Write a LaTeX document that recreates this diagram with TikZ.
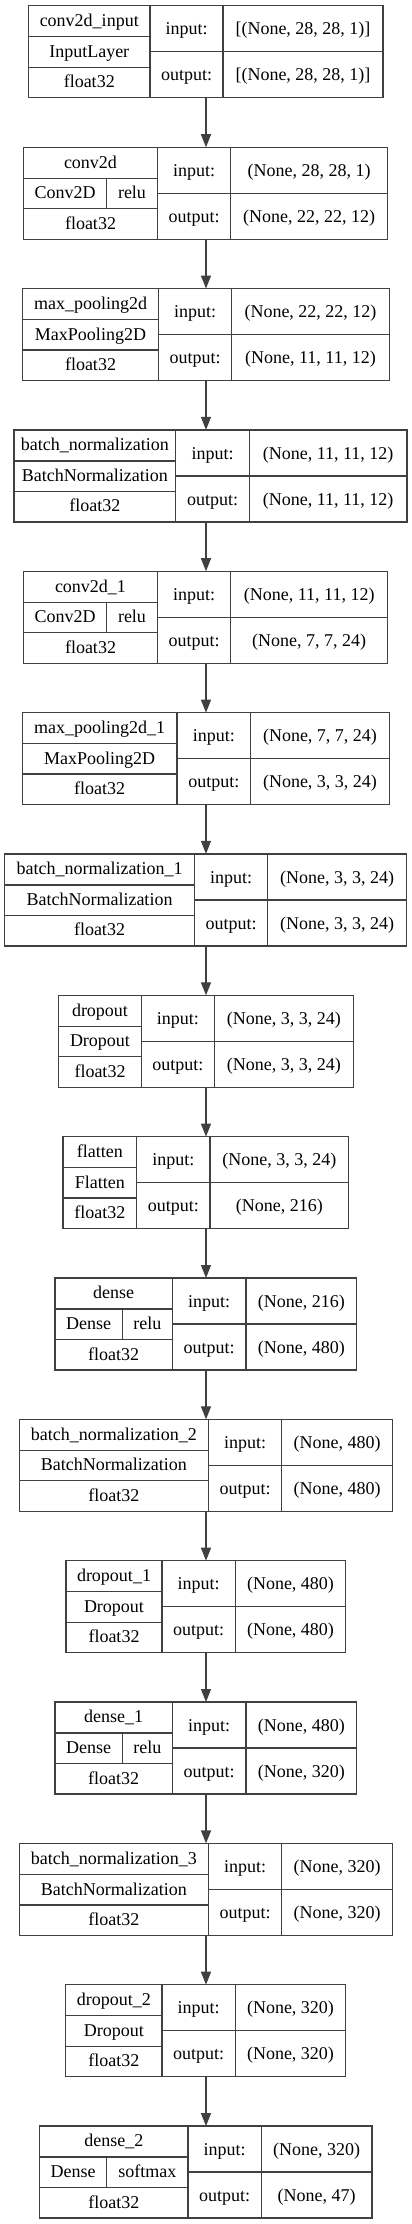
\documentclass[tikz,border=0pt]{standalone}
\usepackage{fontspec}
\setmainfont{Liberation Serif}
\usetikzlibrary{arrows.meta}
% one layer record: id, top, left, split, port split, right, name, input, output
\newcommand{\pLayer}[9]{%
  \xdef\pId{#1}\xdef\pTop{#2}\xdef\pLeft{#3}\xdef\pMid{#4}%
  \node[frame, anchor=north west, minimum width={(#6-#3)*1pt}, minimum height=92pt] (#1) at (#3,#2) {};
  \draw[rule] (#4,#2) -- (#4,#2+92) (#5,#2) -- (#5,#2+92);
  \draw[rule] (#3,#2+31) -- (#4,#2+31) (#3,#2+61.5) -- (#4,#2+61.5) (#4,#2+46) -- (#6,#2+46);
  \node[cell] (#1-name) at ({(#3+#4)/2},#2+20.8) {#7};
  \node[cell] (#1-dtype) at ({(#3+#4)/2},#2+82) {float32};
  \node[cell] (#1-inkey) at ({(#4+#5)/2},#2+29.2) {input:};
  \node[cell] (#1-outkey) at ({(#4+#5)/2},#2+75.2) {output:};
  \node[cell] (#1-inval) at ({(#5+#6)/2},#2+29.2) {#8};
  \node[cell] (#1-outval) at ({(#5+#6)/2},#2+75.2) {#9};
}
\newcommand{\pKind}[1]{%
  \node[cell] (\pId-kind) at ({(\pLeft+\pMid)/2},\pTop+51.6) {#1};
}
\newcommand{\pKindAct}[3]{%
  \draw[rule] (#1,\pTop+31) -- (#1,\pTop+61.5);
  \node[cell] (\pId-kind) at ({(\pLeft+#1)/2},\pTop+51.6) {#2};
  \node[cell] (\pId-act) at ({(#1+\pMid)/2},\pTop+51.6) {#3};
}

\begin{document}
\begin{tikzpicture}[x=1pt,y=-1pt,
  frame/.style={draw=black!75, line width=1.3pt, inner sep=0pt, outer sep=0pt},
  rule/.style={draw=black!75, line width=1.3pt},
  cell/.style={anchor=base, inner sep=0pt, font=\fontsize{18}{22}\selectfont},
  flow/.style={draw=black!75, line width=1.3pt, -{Triangle[length=13pt,width=10pt]}}]
\useasboundingbox (0,0) rectangle (412,2224);
\coordinate (spine) at (206,0);
\pLayer{input}{5.8}{28.5}{150}{223}{383}{conv2d\_input}{[(None, 28, 28, 1)]}{[(None, 28, 28, 1)]}
\pKind{InputLayer}
\pLayer{conv}{147.2}{23.7}{157.3}{230.7}{387.7}{conv2d}{(None, 28, 28, 1)}{(None, 22, 22, 12)}
\pKindAct{106.7}{Conv2D}{relu}
\pLayer{pool}{288.5}{22.3}{158.7}{231.7}{389.3}{max\_pooling2d}{(None, 22, 22, 12)}{(None, 11, 11, 12)}
\pKind{MaxPooling2D}
\pLayer{bn}{429.9}{14}{175.7}{249.3}{407}{batch\_normalization}{(None, 11, 11, 12)}{(None, 11, 11, 12)}
\pKind{BatchNormalization}
\pLayer{convA}{571.2}{23.7}{157.3}{230.7}{387.7}{conv2d\_1}{(None, 11, 11, 12)}{(None, 7, 7, 24)}
\pKindAct{106.7}{Conv2D}{relu}
\pLayer{poolA}{712.6}{22.3}{177}{250.7}{389.3}{max\_pooling2d\_1}{(None, 7, 7, 24)}{(None, 3, 3, 24)}
\pKind{MaxPooling2D}
\pLayer{bnA}{853.9}{4.7}{194.3}{267.7}{406.7}{batch\_normalization\_1}{(None, 3, 3, 24)}{(None, 3, 3, 24)}
\pKind{BatchNormalization}
\pLayer{drop}{995.3}{58.7}{141.3}{214.3}{353.3}{dropout}{(None, 3, 3, 24)}{(None, 3, 3, 24)}
\pKind{Dropout}
\pLayer{flat}{1136.6}{63}{136.7}{210}{348.7}{flatten}{(None, 3, 3, 24)}{(None, 216)}
\pKind{Flatten}
\pLayer{dense}{1278}{55}{172.3}{246}{356.7}{dense}{(None, 216)}{(None, 480)}
\pKindAct{122.3}{Dense}{relu}
\pLayer{bnB}{1419.3}{19.3}{208.3}{281.7}{392.7}{batch\_normalization\_2}{(None, 480)}{(None, 480)}
\pKind{BatchNormalization}
\pLayer{dropA}{1560.7}{66}{162}{235.3}{345.7}{dropout\_1}{(None, 480)}{(None, 480)}
\pKind{Dropout}
\pLayer{denseA}{1702}{55}{172.3}{246}{356.7}{dense\_1}{(None, 480)}{(None, 320)}
\pKindAct{122.3}{Dense}{relu}
\pLayer{bnC}{1843.4}{19.3}{208.3}{281.7}{392.7}{batch\_normalization\_3}{(None, 320)}{(None, 320)}
\pKind{BatchNormalization}
\pLayer{dropB}{1984.7}{65.7}{162}{235.3}{345.7}{dropout\_2}{(None, 320)}{(None, 320)}
\pKind{Dropout}
\pLayer{denseB}{2126.1}{39.7}{188}{261.3}{372}{dense\_2}{(None, 320)}{(None, 47)}
\pKindAct{106.7}{Dense}{softmax}
% connectors
\draw[flow] (input.south -| spine) -- (conv.north -| spine);
\draw[flow] (conv.south -| spine) -- (pool.north -| spine);
\draw[flow] (pool.south -| spine) -- (bn.north -| spine);
\draw[flow] (bn.south -| spine) -- (convA.north -| spine);
\draw[flow] (convA.south -| spine) -- (poolA.north -| spine);
\draw[flow] (poolA.south -| spine) -- (bnA.north -| spine);
\draw[flow] (bnA.south -| spine) -- (drop.north -| spine);
\draw[flow] (drop.south -| spine) -- (flat.north -| spine);
\draw[flow] (flat.south -| spine) -- (dense.north -| spine);
\draw[flow] (dense.south -| spine) -- (bnB.north -| spine);
\draw[flow] (bnB.south -| spine) -- (dropA.north -| spine);
\draw[flow] (dropA.south -| spine) -- (denseA.north -| spine);
\draw[flow] (denseA.south -| spine) -- (bnC.north -| spine);
\draw[flow] (bnC.south -| spine) -- (dropB.north -| spine);
\draw[flow] (dropB.south -| spine) -- (denseB.north -| spine);
\end{tikzpicture}
\end{document}
